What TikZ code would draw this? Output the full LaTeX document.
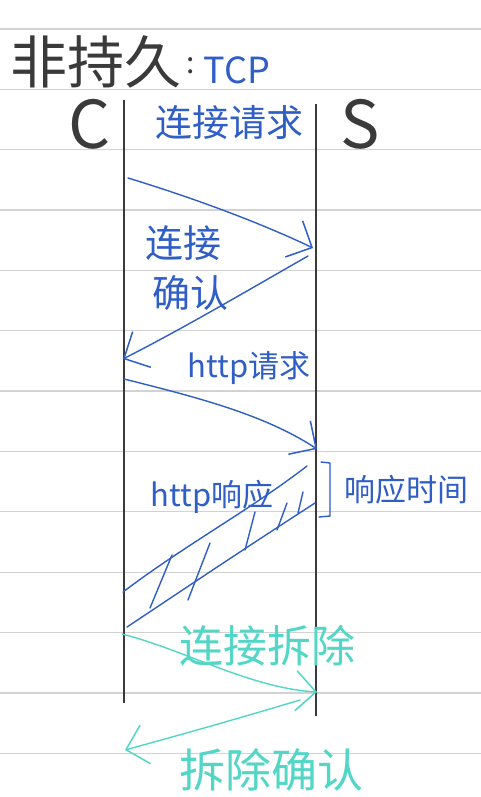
\documentclass[tikz,border=0pt]{standalone}
\usepackage{fontspec}
\newfontfamily\cjk{Noto Sans CJK SC}
\usetikzlibrary{arrows.meta}
\definecolor{inkblue}{HTML}{2F5EC6}
\definecolor{inkteal}{HTML}{52D6C6}
\definecolor{rulegray}{HTML}{D2D2D2}
\definecolor{pengray}{HTML}{3A3A3A}
\tikzset{
  ruleline/.style={rulegray, line width=1.3pt},
  lifeline/.style={pengray, line width=2.8pt},
  blueline/.style={inkblue, line width=1.4pt, line cap=round, line join=round},
  tealline/.style={inkteal, line width=1.4pt, line cap=round, line join=round},
  barb/.style={-{Straight Barb[length=20pt,width=40pt,line width=1.5pt]}},
  txt/.style={inner sep=0pt, font=\cjk},
}
\begin{document}
\begin{tikzpicture}[x=1pt,y=-1pt]
\useasboundingbox (0,0) rectangle (481,797);
\fill[white] (0,0) rectangle (481,797);
% ruled paper
\foreach \k in {0,...,12}{
  \draw[ruleline] (0,{29+60.35*\k}) -- (481,{29+60.35*\k});
}
% title
\node[txt, pengray, font=\cjk\fontsize{57}{60}\selectfont] (title) at (96,62) {非持久};
\node[txt, pengray, font=\cjk\fontsize{30}{32}\selectfont] (colon) at (191,66) {:};
\node[txt, inkblue, font=\cjk\fontsize{36}{40}\selectfont] (tcp) at (237,70) {TCP};
% endpoints
\node[txt, pengray, font=\cjk\fontsize{66}{70}\selectfont] (C) at (90,124) {C};
\node[txt, pengray, font=\cjk\fontsize{66}{70}\selectfont] (S) at (360,124) {S};
% lifelines
\coordinate (c0) at (124,100);
\coordinate (c1) at (124,703);
\coordinate (s0) at (316,104);
\coordinate (s1) at (316,716);
\draw[lifeline] (c0) -- (c1);
\draw[lifeline] (s0) -- (s1);
% connection request
\node[txt, inkblue, font=\cjk\fontsize{37}{40}\selectfont] (req) at (229,122) {连接请求};
\coordinate (a1s) at (128,178);
\coordinate (a1e) at (313,248);
\draw[blueline, barb] (a1s) .. controls (200,200) and (265,225) .. (a1e);
% connection confirm
\node[txt, inkblue, font=\cjk\fontsize{38}{40}\selectfont] (ack1) at (183,243) {连接};
\node[txt, inkblue, font=\cjk\fontsize{38}{40}\selectfont] (ack2) at (190,293) {确认};
\coordinate (a2s) at (308,256);
\coordinate (a2e) at (123,359);
\draw[blueline, barb] (a2s) .. controls (240,295) and (180,330) .. (a2e);
% http request
\node[txt, inkblue, font=\cjk\fontsize{31}{34}\selectfont] (hreq) at (249,368) {http请求};
\coordinate (a3s) at (124,379);
\coordinate (a3e) at (317,449);
\draw[blueline, barb] (a3s) .. controls (200,398) and (265,415) .. (a3e);
% http response
\node[txt, inkblue, font=\cjk\fontsize{31}{34}\selectfont] (hresp) at (212,497) {http响应};
\coordinate (r1s) at (307,466);
\coordinate (r1e) at (123,592);
\coordinate (r2s) at (315,503);
\coordinate (r2e) at (127,627);
\draw[blueline] (r1s) .. controls (250,510) and (185,545) .. (r1e);
\draw[blueline] (r2s) .. controls (250,545) and (190,585) .. (r2e);
\foreach \ax/\ay/\bx/\by in {150/608/172/555, 188/600/210/543, 245/550/255/512, 277/530/287/503, 298/513/303/492}{
  \draw[blueline] (\ax,\ay) -- (\bx,\by);
}
% response time bracket
\coordinate (b0) at (321,462);
\coordinate (b1) at (330,463);
\coordinate (b2) at (330,516);
\coordinate (b3) at (319,517);
\draw[blueline] (b0) -- (b1) -- (b2) -- (b3);
\node[txt, inkblue, font=\cjk\fontsize{31}{34}\selectfont] (rtime) at (406,490) {响应时间};
% teardown
\node[txt, inkteal, font=\cjk\fontsize{44}{46}\selectfont] (fin) at (267,646) {连接拆除};
\coordinate (t1s) at (122,634);
\coordinate (t1e) at (317,692);
\draw[tealline, barb] (t1s) .. controls (185,650) and (250,688) .. (t1e);
% teardown confirm
\node[txt, inkteal, font=\cjk\fontsize{46}{48}\selectfont] (finack) at (271,770) {拆除确认};
\coordinate (t2s) at (300,700);
\coordinate (t2e) at (125,750);
\draw[tealline, barb] (t2s) .. controls (240,718) and (180,735) .. (t2e);
\end{tikzpicture}
\end{document}
